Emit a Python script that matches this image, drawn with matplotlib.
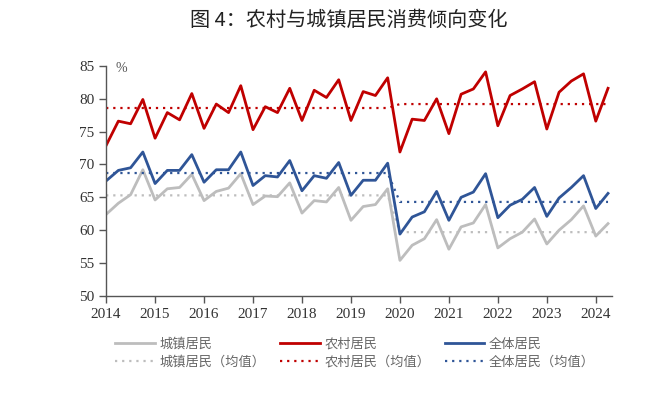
import numpy as np
import matplotlib
matplotlib.use("Agg")
import matplotlib.pyplot as plt

plt.rcParams['font.family'] = ['Noto Sans CJK SC', 'DejaVu Sans']

# 2014Q1 - 2024Q2, quarterly
years = [2014, 2015, 2016, 2017, 2018, 2019, 2020, 2021, 2022, 2023, 2024]
urban = [62.4, 64.1, 65.4, 69.2, 64.6, 66.3, 66.5, 68.5, 64.5, 65.9, 66.4, 68.6,
         63.9, 65.2, 65.1, 67.2, 62.6, 64.5, 64.3, 66.5, 61.5, 63.6, 63.9, 66.3,
         55.4, 57.7, 58.7, 61.6, 57.1, 60.5, 61.1, 63.9, 57.3, 58.7, 59.7, 61.7,
         57.9, 60.0, 61.6, 63.7, 59.1, 61.0]
rural = [72.9, 76.6, 76.2, 79.9, 74.0, 77.9, 76.8, 80.8, 75.5, 79.2, 77.9, 82.0,
         75.3, 78.8, 77.9, 81.6, 76.7, 81.3, 80.2, 82.9, 76.7, 81.1, 80.5, 83.2,
         71.9, 76.9, 76.7, 80.0, 74.7, 80.7, 81.5, 84.1, 75.9, 80.5, 81.5, 82.6,
         75.4, 81.0, 82.7, 83.8, 76.6, 81.6]
total = [67.5, 69.1, 69.5, 71.9, 67.1, 69.1, 69.1, 71.5, 67.3, 69.2, 69.2, 71.9,
         66.8, 68.3, 68.1, 70.6, 66.0, 68.3, 67.9, 70.3, 65.3, 67.6, 67.6, 70.2,
         59.4, 62.0, 62.8, 65.9, 61.5, 65.0, 65.8, 68.6, 61.9, 63.8, 64.7, 66.5,
         62.1, 64.9, 66.5, 68.3, 63.3, 65.6]
# period means: 2014-2019, 2020-2024
urban_mean = [65.3, 59.7]
rural_mean = [78.6, 79.2]
total_mean = [68.7, 64.3]

n = len(urban)
x = 2014 + np.arange(n) / 4
split = 24  # 2020Q1


def mean_line(m):
    return np.where(np.arange(n) < split, m[0], m[1])


c_urban = '#BDBDBD'
c_rural = '#C00000'
c_total = '#2F5597'

fig = plt.figure(figsize=(6.51, 3.95), dpi=100)
ax = fig.add_axes([0.163, 0.251, 0.777, 0.582])

ax.plot(x, urban, color=c_urban, lw=2.0, label='城镇居民')
ax.plot(x, mean_line(urban_mean), color=c_urban, lw=1.6, ls=(0, (1, 2.2)), label='城镇居民（均值）')
ax.plot(x, rural, color=c_rural, lw=2.0, label='农村居民')
ax.plot(x, mean_line(rural_mean), color=c_rural, lw=1.6, ls=(0, (1, 2.2)), label='农村居民（均值）')
ax.plot(x, total, color=c_total, lw=2.0, label='全体居民')
ax.plot(x, mean_line(total_mean), color=c_total, lw=1.6, ls=(0, (1, 2.2)), label='全体居民（均值）')

ax.set_xlim(2014, 2024.33)
ax.set_ylim(50, 85)
ax.set_xticks(years)
ax.set_xticklabels([str(y) for y in years])
ax.set_yticks(range(50, 90, 5))
for lab in ax.get_xticklabels() + ax.get_yticklabels():
    lab.set_family('Liberation Serif')
    lab.set_fontsize(11)
    lab.set_color('#333333')
ax.tick_params(direction='out', length=5, width=1, color='#555555')
ax.spines['top'].set_visible(False)
ax.spines['right'].set_visible(False)
for s in ['left', 'bottom']:
    ax.spines[s].set_color('#555555')
    ax.spines[s].set_linewidth(1)

ax.text(2014.2, 84.6, '%', family='Liberation Serif', fontsize=10, color='#555555',
        ha='left', va='center')

fig.text(0.535, 0.948, '图 4：农村与城镇居民消费倾向变化', ha='center', va='center',
         fontsize=14.5, color='#222222')

leg = fig.legend(loc='center left', bbox_to_anchor=(0.177, 0.106), ncol=3, frameon=False,
                 fontsize=9.5, handlelength=3.0, handletextpad=0.35, columnspacing=1.1,
                 labelspacing=0.35, borderpad=0, borderaxespad=0)
for t in leg.get_texts():
    t.set_color('#666666')

fig.savefig('out.png', dpi=100)
